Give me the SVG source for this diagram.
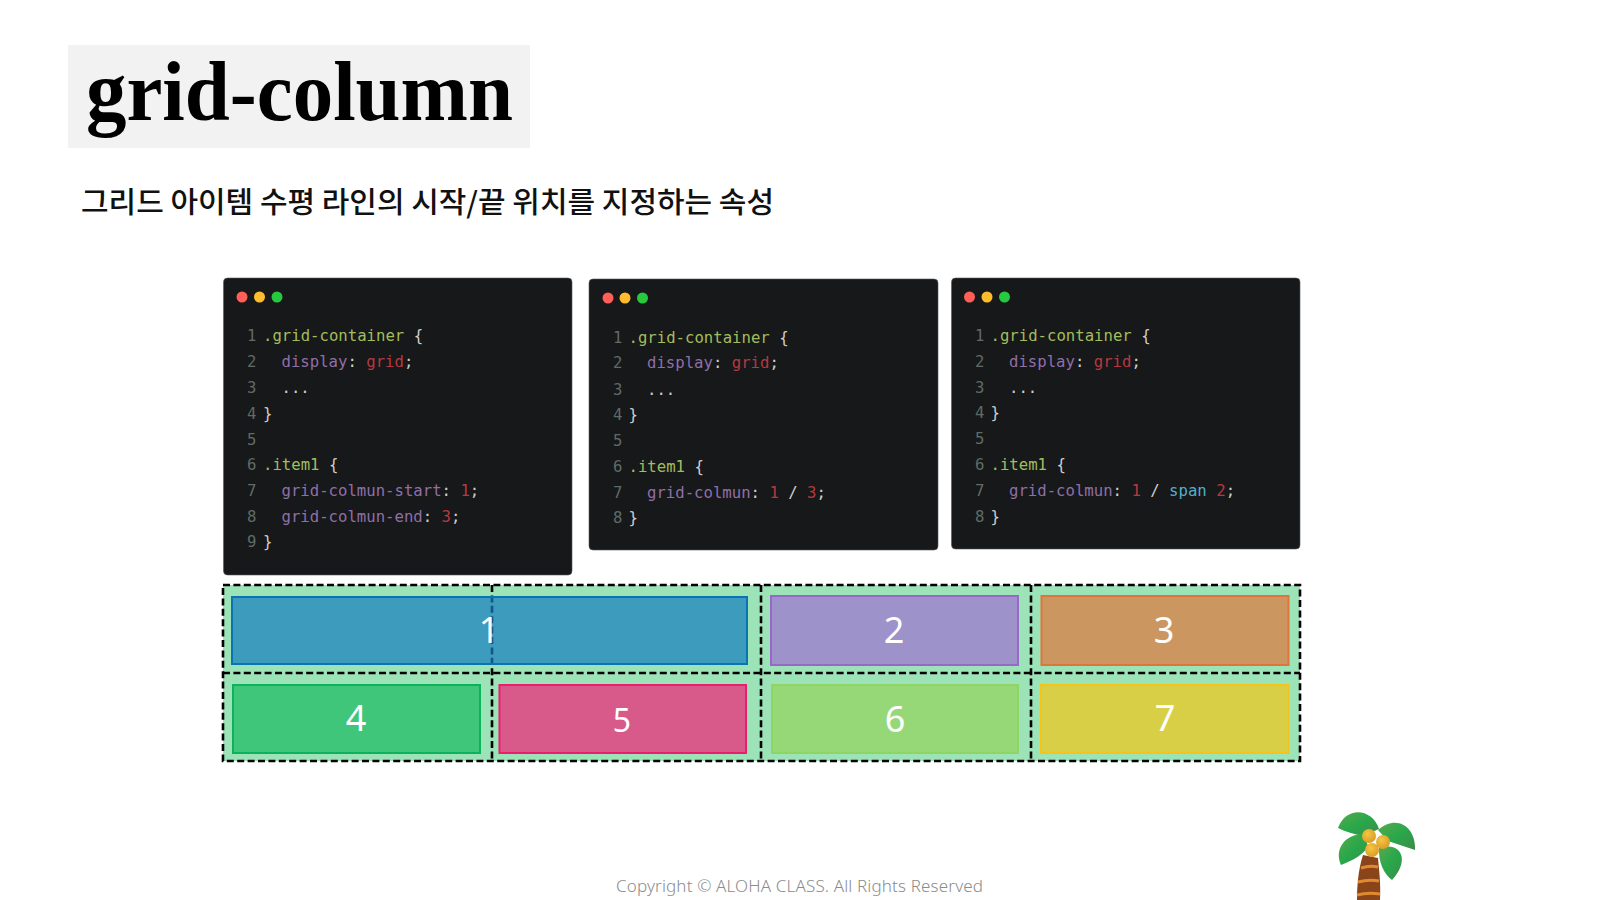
<svg xmlns="http://www.w3.org/2000/svg" width="1600" height="900" viewBox="0 0 1600 900">
<style>
.panel{fill:#17181a;stroke:#55585c;stroke-width:.6}
.code{font-family:"DejaVu Sans Mono","Liberation Mono",monospace;font-size:15.65px;fill:#cfcfca;white-space:pre}
.n{fill:#5f6b66}.s{fill:#a3bd5c}.p{fill:#8f6fa8}.v{fill:#b8383f}.k{fill:#56aeca}
.gl{stroke:#000;stroke-width:2.6;stroke-dasharray:7 3.4;fill:none}
.digit{font-family:"Noto Sans","Open Sans",sans-serif;font-size:36px;fill:#fff;text-anchor:middle}
.item{stroke-width:2}
</style>
<defs>
<linearGradient id="leaf" x1="0" y1="0" x2="1" y2="1"><stop offset="0" stop-color="#5aa84e"/><stop offset=".5" stop-color="#28a84a"/><stop offset="1" stop-color="#3f8a4a"/></linearGradient>
<radialGradient id="nut" cx=".4" cy=".35" r=".7"><stop offset="0" stop-color="#f6c63f"/><stop offset="1" stop-color="#d79a28"/></radialGradient>
</defs>
<rect width="1600" height="900" fill="#fff"/>
<g id="title">
<rect x="68" y="45" width="462" height="103" fill="#f2f2f2"/>
<text x="86" y="120" font-family="'Liberation Serif',serif" font-weight="700" font-size="85" fill="#000" textLength="427" lengthAdjust="spacingAndGlyphs">grid-column</text>
</g>
<text id="subtitle" x="81" y="213" font-family="'Noto Sans CJK KR',sans-serif" font-size="29" font-weight="500" fill="#111" textLength="693" lengthAdjust="spacingAndGlyphs">그리드 아이템 수평 라인의 시작/끝 위치를 지정하는 속성</text>

<g id="code-panel-1">
<rect class="panel" x="223.500" y="278" width="348.500" height="297" rx="4"/>
<circle cx="242" cy="297" r="5.500" fill="#ff5f56"/><circle cx="259.500" cy="297" r="5.500" fill="#ffbd2e"/><circle cx="277" cy="297" r="5.500" fill="#27c93f"/>
<g class="code">
<text x="247" y="341.200"><tspan class="n">1</tspan></text><text x="263" y="341.200"><tspan class="s">.grid-container</tspan> {</text>
<text x="247" y="367.200"><tspan class="n">2</tspan></text><text x="281.500" y="367.200"><tspan class="p">display</tspan>: <tspan class="v">grid</tspan>;</text>
<text x="247" y="393.200"><tspan class="n">3</tspan></text><text x="281.500" y="393.200">...</text>
<text x="247" y="418.800"><tspan class="n">4</tspan></text><text x="263" y="418.800">}</text>
<text x="247" y="444.800"><tspan class="n">5</tspan></text>
<text x="247" y="470.200"><tspan class="n">6</tspan></text><text x="263" y="470.200"><tspan class="s">.item1</tspan> {</text>
<text x="247" y="496.200"><tspan class="n">7</tspan></text><text x="281.500" y="496.200"><tspan class="p">grid-colmun-start</tspan>: <tspan class="v">1</tspan>;</text>
<text x="247" y="522.200"><tspan class="n">8</tspan></text><text x="281.500" y="522.200"><tspan class="p">grid-colmun-end</tspan>: <tspan class="v">3</tspan>;</text>
<text x="247" y="547.200"><tspan class="n">9</tspan></text><text x="263" y="547.200">}</text>
</g>
</g>

<g id="code-panel-2">
<rect class="panel" x="589" y="279" width="349" height="271" rx="4"/>
<circle cx="608" cy="298" r="5.500" fill="#ff5f56"/><circle cx="625" cy="298" r="5.500" fill="#ffbd2e"/><circle cx="642.500" cy="298" r="5.500" fill="#27c93f"/>
<g class="code">
<text x="613" y="342.500"><tspan class="n">1</tspan></text><text x="628.500" y="342.500"><tspan class="s">.grid-container</tspan> {</text>
<text x="613" y="368"><tspan class="n">2</tspan></text><text x="647" y="368"><tspan class="p">display</tspan>: <tspan class="v">grid</tspan>;</text>
<text x="613" y="394.500"><tspan class="n">3</tspan></text><text x="647" y="394.500">...</text>
<text x="613" y="420"><tspan class="n">4</tspan></text><text x="628.500" y="420">}</text>
<text x="613" y="446"><tspan class="n">5</tspan></text>
<text x="613" y="471.500"><tspan class="n">6</tspan></text><text x="628.500" y="471.500"><tspan class="s">.item1</tspan> {</text>
<text x="613" y="497.500"><tspan class="n">7</tspan></text><text x="647" y="497.500"><tspan class="p">grid-colmun</tspan>: <tspan class="v">1</tspan> / <tspan class="v">3</tspan>;</text>
<text x="613" y="523"><tspan class="n">8</tspan></text><text x="628.500" y="523">}</text>
</g>
</g>

<g id="code-panel-3">
<rect class="panel" x="951.500" y="278" width="348.500" height="271" rx="4"/>
<circle cx="969.500" cy="297" r="5.500" fill="#ff5f56"/><circle cx="987" cy="297" r="5.500" fill="#ffbd2e"/><circle cx="1004.500" cy="297" r="5.500" fill="#27c93f"/>
<g class="code">
<text x="975" y="341.200"><tspan class="n">1</tspan></text><text x="990.500" y="341.200"><tspan class="s">.grid-container</tspan> {</text>
<text x="975" y="367"><tspan class="n">2</tspan></text><text x="1009" y="367"><tspan class="p">display</tspan>: <tspan class="v">grid</tspan>;</text>
<text x="975" y="393"><tspan class="n">3</tspan></text><text x="1009" y="393">...</text>
<text x="975" y="418"><tspan class="n">4</tspan></text><text x="990.500" y="418">}</text>
<text x="975" y="444.200"><tspan class="n">5</tspan></text>
<text x="975" y="470"><tspan class="n">6</tspan></text><text x="990.500" y="470"><tspan class="s">.item1</tspan> {</text>
<text x="975" y="496"><tspan class="n">7</tspan></text><text x="1009" y="496"><tspan class="p">grid-colmun</tspan>: <tspan class="v">1</tspan> / <tspan class="k">span</tspan> <tspan class="v">2</tspan>;</text>
<text x="975" y="522"><tspan class="n">8</tspan></text><text x="990.500" y="522">}</text>
</g>
</g>

<rect id="grid-background" x="223" y="585" width="1077" height="176" fill="#9ce3b8"/>
<g id="grid-lines">
<rect class="gl" x="223" y="585" width="1077" height="176"/>
<path class="gl" d="M223 673H1300M492 585V761M761 585V761M1031 585V761"/>
</g>
<g id="item-1"><rect class="item" x="232" y="597" width="515" height="67" fill="#167cbf" fill-opacity=".7" stroke="#0a74b2"/><text class="digit" x="489" y="643">1</text></g>
<g id="item-2"><rect class="item" x="771" y="596" width="247" height="69" fill="#9d92c9" stroke="#9a66c9"/><text class="digit" x="894" y="643">2</text></g>
<g id="item-3"><rect class="item" x="1041.500" y="596" width="247" height="69" fill="#cc9660" stroke="#e0743a"/><text class="digit" x="1164" y="643">3</text></g>
<g id="item-4"><rect class="item" x="233" y="685" width="247" height="68" fill="#3fc67a" stroke="#0bb35a"/><text class="digit" x="356" y="731">4</text></g>
<g id="item-5"><rect class="item" x="499.500" y="685" width="246.500" height="68" fill="#d85a8a" stroke="#ee1c6e"/><text class="digit" x="622" y="732" style="font-size:32px">5</text></g>
<g id="item-6"><rect class="item" x="772" y="685" width="246" height="68" fill="#96d878" stroke="#8fd564"/><text class="digit" x="895" y="732">6</text></g>
<g id="item-7"><rect class="item" x="1041" y="685" width="247.500" height="68" fill="#d8cf46" stroke="#f6c418"/><text class="digit" x="1165" y="731">7</text></g>

<text id="footer" x="616" y="892" font-family="'Noto Sans',sans-serif" font-size="17" font-weight="300" fill="#8c8c8c" textLength="367" lengthAdjust="spacing">Copyright © ALOHA CLASS. All Rights Reserved</text>

<g id="palm">
<path d="M1363 855C1358 870 1357 888 1357 900H1380C1381 884 1379 870 1378 858Z" fill="#8a4419"/>
<path d="M1361 868q9-3 17-1M1358 882q11-3 21-1M1357 895q11-3 23-1" fill="none" stroke="#e0892f" stroke-width="3"/>
<path d="M1338 828C1346 806 1372 808 1379 829L1363 836C1354 834 1346 832 1338 828Z" fill="url(#leaf)"/>
<path d="M1378 830C1396 814 1416 826 1415 850L1388 841Z" fill="url(#leaf)"/>
<path d="M1364 834C1344 834 1334 850 1341 865C1354 860 1364 854 1368 846Z" fill="url(#leaf)"/>
<path d="M1379 847C1402 842 1410 860 1392 880C1384 874 1378 862 1379 847Z" fill="url(#leaf)"/>
<circle cx="1369" cy="836" r="7" fill="url(#nut)"/><circle cx="1383" cy="842" r="7" fill="url(#nut)"/><circle cx="1372" cy="850" r="7" fill="url(#nut)"/>
</g>
</svg>
